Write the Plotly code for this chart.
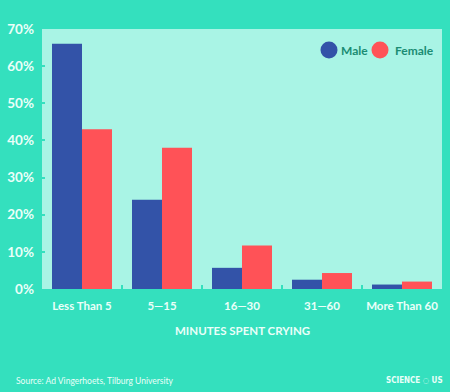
import plotly.graph_objects as go

categories = ["Less Than 5", "5—15", "16—30", "31—60", "More Than 60"]
male = [66, 24, 5.7, 2.5, 1.2]
female = [43, 38, 11.7, 4.3, 2.0]
y_ticks = [0, 10, 20, 30, 40, 50, 60, 70]
y_tick_labels = [f"{v}%" for v in y_ticks]
series_names = ["Male", "Female"]

OUTER = "#34E0BE"
INNER = "#A9F4E5"
BLUE = "#3353A8"
RED = "#FF5257"
WHITE = "#EAFFF9"
DARK = "#1B8C73"
FONT = "Lato"

fig = go.Figure()
fig.add_trace(go.Bar(x=categories, y=male, marker=dict(color=BLUE, line=dict(width=0)),
                     showlegend=False, name=series_names[0]))
fig.add_trace(go.Bar(x=categories, y=female, marker=dict(color=RED, line=dict(width=0)),
                     showlegend=False, name=series_names[1]))

fig.update_layout(
    width=450, height=392,
    margin=dict(l=42, r=8, t=29, b=103, autoexpand=False),
    paper_bgcolor=OUTER, plot_bgcolor=INNER,
    barmode="group", bargap=0.25, bargroupgap=0,
    font=dict(family=FONT, size=13, color=WHITE, weight="bold"),
    showlegend=False,
    xaxis=dict(showgrid=False, zeroline=False, showline=False, automargin=False,
               tickangle=0,
               ticks="inside", ticklen=4, tickwidth=2, tickcolor=OUTER,
               tickson="boundaries", ticklabelstandoff=8,
               tickfont=dict(size=11.5, color=WHITE, family=FONT, weight="bold")),
    yaxis=dict(range=[0, 70], showgrid=False, zeroline=False, showline=False, automargin=False,
               tickvals=y_ticks, ticktext=y_tick_labels,
               ticks="inside", ticklen=3, tickwidth=2, tickcolor=OUTER,
               ticklabelstandoff=7,
               tickfont=dict(size=13.5, color=WHITE, family=FONT, weight="bold")),
)

# legend drawn as circles + labels
legend_items = [(series_names[0], BLUE, 0.7175, 0.7425), (series_names[1], RED, 0.845, 0.8775)]
for name, col, cx, tx in legend_items:
    fig.add_shape(type="circle", xref="paper", yref="paper", xsizemode="pixel", ysizemode="pixel",
                  xanchor=cx, yanchor=0.919, x0=-8.5, x1=8.5, y0=-8.5, y1=8.5,
                  fillcolor=col, line=dict(width=0))
    fig.add_annotation(text=name, xref="paper", yref="paper", x=tx, y=0.919,
                       xanchor="left", yanchor="middle", showarrow=False,
                       font=dict(size=12, color=DARK, family=FONT, weight="bold"))

fig.add_annotation(text="MINUTES SPENT CRYING", xref="paper", yref="paper",
                   x=0.5, y=-0.158, xanchor="center", yanchor="middle", showarrow=False,
                   font=dict(size=11.5, color=WHITE, family=FONT, weight="bold"))
fig.add_annotation(text="Source: Ad Vingerhoets, Tilburg University", xref="paper", yref="paper",
                   x=-0.07, y=-0.352, xanchor="left", yanchor="middle", showarrow=False,
                   font=dict(size=8.5, color=WHITE, family=FONT, weight="normal"))
fig.add_annotation(text="SCIENCE ◌ US", xref="paper", yref="paper",
                   x=1.0075, y=-0.352, xanchor="right", yanchor="middle", showarrow=False,
                   font=dict(size=8, color=WHITE, family="DejaVu Sans Condensed", weight="bold"))

fig.write_html("out.html", config={"displayModeBar": False},
               post_script="document.body.style.margin='0';document.body.style.overflow='hidden';")
